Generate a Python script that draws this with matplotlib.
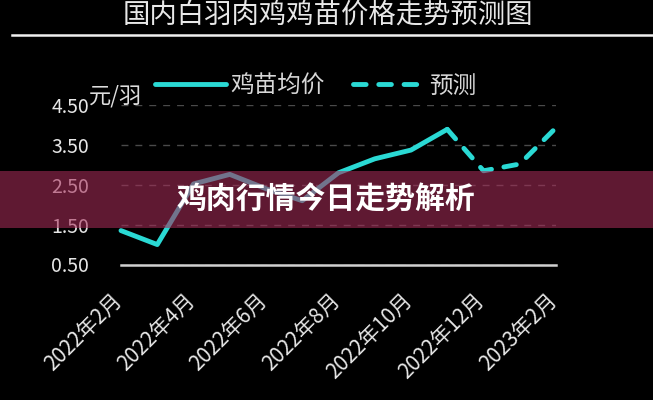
import matplotlib
matplotlib.use("Agg")
import matplotlib.pyplot as plt
import matplotlib.transforms as mtransforms
from matplotlib.patches import Rectangle
from matplotlib.lines import Line2D

plt.rcParams['font.family'] = ['Noto Sans CJK SC', 'DejaVu Sans']

# ---- data ----
title = "国内白羽肉鸡鸡苗价格走势预测图"
banner_text = "鸡肉行情今日走势解析"
unit_label = "元/羽"
series_names = ["鸡苗均价", "预测"]
x_tick_labels = ["2022年2月", "2022年4月", "2022年6月", "2022年8月",
                 "2022年10月", "2022年12月", "2023年2月"]
y_ticks = [0.50, 1.50, 2.50, 3.50, 4.50]
# monthly values, Feb 2022 .. Nov 2022 (actual) and Nov 2022 .. Feb 2023 (forecast)
actual = [1.35, 1.00, 2.52, 2.76, 2.40, 2.10, 2.80, 3.15, 3.37, 3.89]
forecast = [3.89, 2.85, 3.02, 3.93]

W, H = 653, 400
fig = plt.figure(figsize=(W / 100, H / 100), dpi=100, facecolor='black')

def fx(px):
    return px / W

def fy(py):
    return 1 - py / H

ax_l, ax_r, ax_t, ax_b = 121, 556, 105, 264.5
ax = fig.add_axes([fx(ax_l), fy(ax_b), fx(ax_r - ax_l), (ax_b - ax_t) / H])
ax.set_facecolor('black')

cyan = '#2ad9d4'
xa = list(range(len(actual)))
xf = list(range(len(actual) - 1, len(actual) - 1 + len(forecast)))
l1, = ax.plot(xa, actual, color=cyan, lw=3.5, solid_capstyle='round',
              solid_joinstyle='round', clip_on=False, zorder=3)
l2, = ax.plot(xf, forecast, color=cyan, lw=3.5, linestyle=(0, (2.6, 2.6)),
              dash_capstyle='round', clip_on=False, zorder=3)

n_months = len(actual) - 1 + len(forecast)
ax.set_xlim(0, n_months - 1)
ax.set_ylim(y_ticks[0], y_ticks[-1])
ax.set_yticks(y_ticks)
ax.set_yticklabels([f"{v:.2f}" for v in y_ticks])
ax.tick_params(axis='y', length=0, pad=23, labelsize=14, labelcolor='#e6e6e6')
ax.set_xticks(range(0, n_months, 2))
ax.set_xticklabels(x_tick_labels, rotation=45, ha='right', va='top',
                   rotation_mode='anchor')
ax.tick_params(axis='x', length=0, pad=18, labelsize=15, labelcolor='#e6e6e6')
for s in ['top', 'right', 'left']:
    ax.spines[s].set_visible(False)
ax.spines['bottom'].set_color('#d0d0d0')
ax.spines['bottom'].set_linewidth(1.8)
ax.grid(axis='y', color='#4a4a4a', lw=1.0, linestyle=(0, (5, 5)))
ax.set_axisbelow(True)

# shift rotated x labels slightly left so their ends meet the tick positions
shift = mtransforms.ScaledTranslation(-0.10, 0.0, fig.dpi_scale_trans)
for lab in ax.get_xticklabels():
    lab.set_transform(lab.get_transform() + shift)

# title and underline
fig.text(fx(328), fy(15.5), title, ha='center', va='center', fontsize=19.7,
         color='#e8e8e8')
fig.add_artist(Line2D([fx(12), 1.0], [fy(34.7), fy(34.7)], color='#f0f0f0',
                      lw=1.8, transform=fig.transFigure))

# unit label
fig.text(fx(89), fy(96), unit_label, ha='left', va='center', fontsize=16,
         color='#dddddd')

# legend
leg = fig.legend([l1, l2], series_names, loc='center left',
                 bbox_to_anchor=(fx(155), fy(86)), ncol=2, frameon=False,
                 borderpad=0, borderaxespad=0, handlelength=3.0,
                 handletextpad=0.2, columnspacing=1.2, fontsize=17,
                 labelcolor='#d8d8d8')

# banner overlay
fig.add_artist(Rectangle((0, fy(228)), 1, (228 - 171) / H,
                         transform=fig.transFigure,
                         facecolor=(165 / 255, 44 / 255, 88 / 255), alpha=0.58,
                         edgecolor='none', zorder=10))
fig.text(fx(326), fy(200), banner_text, ha='center', va='center',
         fontsize=21.5, fontweight='bold', color='white', zorder=11)

fig.savefig('out.png', dpi=100, facecolor='black')
